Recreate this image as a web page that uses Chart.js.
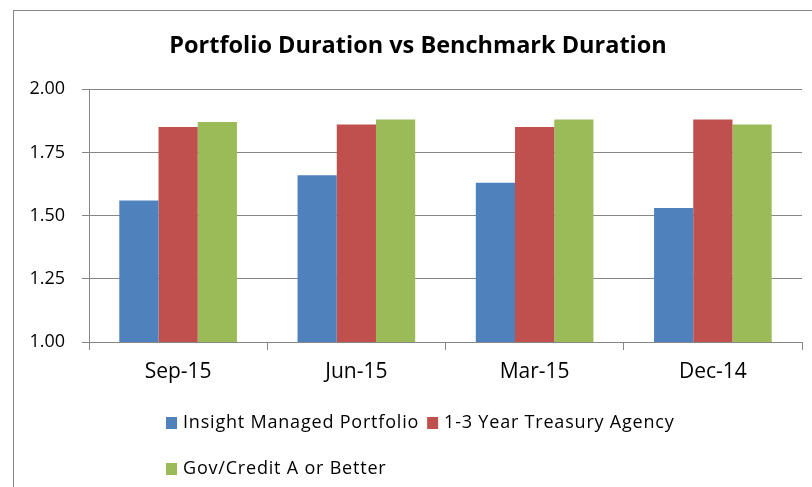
<!DOCTYPE html>
<html>
<head>
<meta charset="utf-8">
<script src="https://cdn.jsdelivr.net/npm/chart.js@4.4.0/dist/chart.umd.min.js"></script>
<style>
    body { margin: 0; background: #fff; }
    #wrap { position: relative; width: 812px; height: 487px; overflow: hidden; }
    #frame { position: absolute; left: 13px; top: 10px; right: -2px; bottom: -2px; border-left: 1px solid #868686; border-top: 1px solid #868686; }
    #durationChart { position: absolute; left: 0; top: 0; }
</style>
</head>
<body>
<div id="wrap">
    <div id="frame"></div>
    <canvas id="durationChart" width="812" height="487"></canvas>
</div>
<script>
// --- DATA ---
const categories = ['Sep-15', 'Jun-15', 'Mar-15', 'Dec-14'];
const seriesNames = ['Insight Managed Portfolio', '1-3 Year Treasury Agency', 'Gov/Credit A or Better'];
const insightValues = [1.56, 1.66, 1.63, 1.53];
const treasuryValues = [1.85, 1.86, 1.85, 1.88];
const govCreditValues = [1.87, 1.88, 1.88, 1.86];
const yTicks = [1.00, 1.25, 1.50, 1.75, 2.00];

const colors = ['#4F81BD', '#C0504D', '#9BBB59'];
const axisGray = '#868686';
const FONT = '"Open Sans", sans-serif';

// legend drawn by hand: Excel keeps rows left aligned with a tall line gap
const excelLegend = {
    id: 'excelLegend',
    afterLayout(chart) {
        // the title sits a bit right of the page centre in the original
        chart.titleBlock.left += 21;
    },
    afterDraw(chart) {
        const ctx = chart.ctx;
        const rows = [[0, 1], [2]];
        const rowY = [423, 469];
        ctx.save();
        ctx.font = '18px ' + FONT;
        ctx.letterSpacing = '0.8px';
        ctx.textBaseline = 'middle';
        ctx.textAlign = 'left';
        rows.forEach((row, r) => {
            let x = 166;
            row.forEach(i => {
                const ds = chart.data.datasets[i];
                ctx.fillStyle = ds.backgroundColor;
                ctx.fillRect(x, rowY[r] - 6, 11, 12);
                ctx.fillStyle = '#000';
                ctx.fillText(ds.label, x + 17, rowY[r]);
                x += 17 + ctx.measureText(ds.label).width + 8;
            });
        });
        ctx.restore();
    }
};

const valueSets = [insightValues, treasuryValues, govCreditValues];

new Chart(document.getElementById('durationChart'), {
    type: 'bar',
    data: {
        labels: categories,
        datasets: seriesNames.map((name, i) => ({
            label: name,
            data: valueSets[i],
            backgroundColor: colors[i],
            borderWidth: 0,
            categoryPercentage: 0.66,
            barPercentage: 1.0
        }))
    },
    options: {
        responsive: false,
        animation: false,
        events: [],
        layout: { padding: { left: 13, right: 10, top: 0, bottom: 95 } },
        plugins: {
            legend: { display: false },
            tooltip: { enabled: false },
            title: {
                display: true,
                text: 'Portfolio Duration vs Benchmark Duration',
                color: '#000',
                font: { family: FONT, size: 23.5, weight: 'bold' },
                padding: { top: 32, bottom: 29 }
            }
        },
        scales: {
            x: {
                grid: { display: true, drawOnChartArea: false, drawTicks: true, tickLength: 8, color: axisGray },
                border: { display: true, color: axisGray },
                ticks: { color: '#000', font: { family: FONT, size: 21 }, padding: 9 },
                afterFit(scale) { scale.height = 50; }
            },
            y: {
                min: 1,
                max: 2,
                afterBuildTicks(scale) { scale.ticks = yTicks.map(v => ({ value: v })); },
                grid: { color: axisGray, tickLength: 7 },
                border: { display: true, color: axisGray },
                ticks: {
                    color: '#000',
                    font: { family: FONT, size: 18 },
                    padding: 17,
                    callback: v => Number(v).toFixed(2)
                },
                afterFit(scale) { scale.width = 76; }
            }
        }
    },
    plugins: [excelLegend]
});
</script>
</body>
</html>
